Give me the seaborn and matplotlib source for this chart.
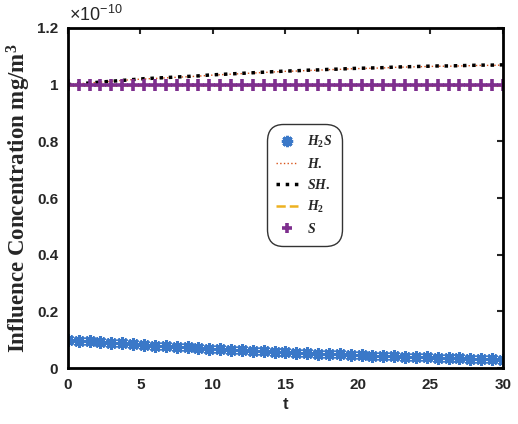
import numpy as np
import pandas as pd
import seaborn as sns
import matplotlib.pyplot as plt
from matplotlib.ticker import FuncFormatter

# time grid (41 samples, 0..30)
t = [0, 0.75, 1.5, 2.25, 3, 3.75, 4.5, 5.25, 6, 6.75, 7.5, 8.25, 9, 9.75, 10.5,
     11.25, 12, 12.75, 13.5, 14.25, 15, 15.75, 16.5, 17.25, 18, 18.75, 19.5, 20.25,
     21, 21.75, 22.5, 23.25, 24, 24.75, 25.5, 26.25, 27, 27.75, 28.5, 29.25, 30]

# concentrations in units of 1e-10 mg/m^3
h2s = [0.100, 0.097, 0.094, 0.092, 0.089, 0.087, 0.084, 0.082, 0.079, 0.077, 0.075,
       0.073, 0.070, 0.068, 0.066, 0.064, 0.062, 0.061, 0.059, 0.057, 0.055, 0.054,
       0.052, 0.051, 0.049, 0.048, 0.046, 0.045, 0.044, 0.042, 0.041, 0.040, 0.039,
       0.038, 0.037, 0.035, 0.034, 0.033, 0.032, 0.031, 0.030]
h_rad = [1.000, 1.003, 1.006, 1.009, 1.012, 1.015, 1.018, 1.020, 1.022, 1.024, 1.026,
         1.028, 1.030, 1.033, 1.035, 1.037, 1.039, 1.041, 1.043, 1.045, 1.047, 1.048,
         1.050, 1.051, 1.053, 1.054, 1.056, 1.057, 1.058, 1.059, 1.061, 1.062, 1.063,
         1.064, 1.065, 1.065, 1.066, 1.067, 1.068, 1.068, 1.069]
sh_rad = [1.000, 1.003, 1.006, 1.009, 1.012, 1.015, 1.018, 1.021, 1.023, 1.025, 1.027,
          1.029, 1.031, 1.034, 1.036, 1.038, 1.040, 1.042, 1.044, 1.046, 1.048, 1.049,
          1.051, 1.052, 1.054, 1.055, 1.057, 1.058, 1.059, 1.060, 1.062, 1.063, 1.064,
          1.065, 1.066, 1.066, 1.067, 1.068, 1.069, 1.069, 1.070]
h2 = [1.0] * 41
s = [1.0] * 41

sns.set_style("white")
plt.rcParams['font.family'] = ['Liberation Sans', 'DejaVu Sans']
plt.rcParams['mathtext.fontset'] = 'custom'
plt.rcParams['mathtext.it'] = 'Liberation Serif:italic:bold'
plt.rcParams['mathtext.bf'] = 'Liberation Serif:bold'
plt.rcParams['mathtext.rm'] = 'Liberation Serif:bold'
plt.rcParams['mathtext.sf'] = 'Liberation Sans'

fig = plt.figure(figsize=(5.18, 4.24), dpi=100)
ax = fig.add_axes([0.131, 0.132, 0.840, 0.802])

blue = '#3a78c8'
purple = '#7e2f8e'
sns.lineplot(x=t, y=h2s, ax=ax, color=blue, linestyle='', marker=(8, 2, 0),
             markersize=9, markeredgewidth=2.2, markeredgecolor=blue,
             label=r'$\mathit{H_2S}$')
sns.lineplot(x=t, y=h_rad, ax=ax, color='#d95319', linestyle=':', linewidth=1,
             label=r'$\mathit{H.}$')
sns.lineplot(x=t, y=sh_rad, ax=ax, color='black', linestyle=':', linewidth=2.5,
             label=r'$\mathit{SH.}$')
sns.lineplot(x=t, y=h2, ax=ax, color='#edb120', linestyle='--', linewidth=1.8,
             label=r'$\mathit{H_2}$')
sns.lineplot(x=t, y=s, ax=ax, color=purple, linestyle='', marker='+',
             markersize=8, markeredgewidth=2.6, markeredgecolor=purple,
             label=r'$\mathit{S}$')

ax.set_xlim(0, 30)
ax.set_ylim(0, 1.2)
ax.set_xticks([0, 5, 10, 15, 20, 25, 30])
ax.set_yticks([0, 0.2, 0.4, 0.6, 0.8, 1.0, 1.2])
ax.yaxis.set_major_formatter(FuncFormatter(lambda v, p: f'{v:g}'))
ax.tick_params(direction='in', length=4, width=1.5, top=True, right=True,
               labelsize=11, pad=7)
for lab in ax.get_xticklabels() + ax.get_yticklabels():
    lab.set_fontweight('bold')
for sp in ax.spines.values():
    sp.set_linewidth(2)
    sp.set_color('black')

ax.set_xlabel('t', fontsize=12, fontweight='bold', labelpad=4)
ax.set_ylabel('Influence Concentration mg/m$^{\\mathbf{3}}$', fontsize=16.5,
              fontweight='bold', family='Liberation Serif', labelpad=3)
ax.text(0.002, 1.008, r'$\mathsf{\times10^{-10}}$', transform=ax.transAxes,
        fontsize=13, ha='left', va='bottom')

leg = ax.legend(loc='center', bbox_to_anchor=(0.543, 0.538), fancybox=True,
                frameon=True, fontsize=10, handlelength=1.6, labelspacing=0.5,
                borderpad=0.5, handletextpad=0.6, markerscale=0.9)
leg.get_frame().set_edgecolor('black')
leg.get_frame().set_linewidth(1)
leg.get_frame().set_boxstyle('round,pad=0.2,rounding_size=1.2')

fig.savefig('out.png', dpi=100)
